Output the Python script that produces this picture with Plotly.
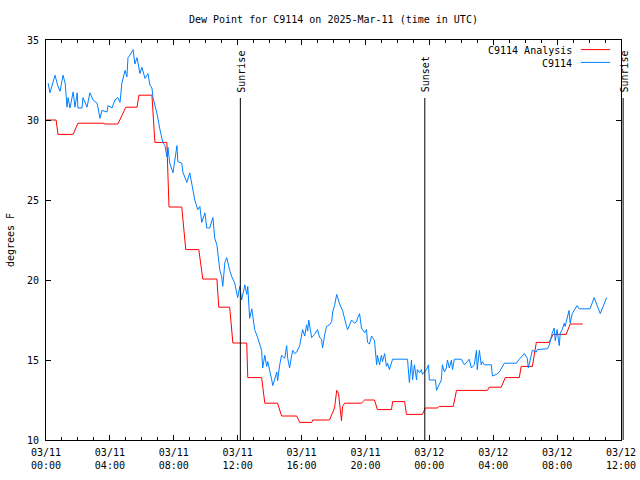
import pandas as pd
import plotly.graph_objects as go

# ---- data (minutes after the time base below) ----
time_base = "2025-03-11 00:04"
obs_minutes = [4,11,30,41,49,60,68,75,79,86,
    98,105,113,116,131,135,150,161,173,188,
    199,206,225,229,244,255,266,274,281,293,
    300,304,311,323,330,338,349,356,368,379,
    386,394,398,413,424,435,443,450,454,461,
    473,488,491,506,510,525,536,548,555,566,
    574,581,593,600,611,623,630,638,641,649,
    656,660,668,675,686,694,705,716,724,731,
    743,750,754,761,769,773,780,791,806,810,
    818,825,829,844,848,863,866,874,881,893,
    900,904,911,919,923,930,938,949,960,968,
    975,979,983,994,1005,1016,1024,1031,1035,1043,
    1050,1061,1069,1073,1080,1088,1099,1110,1118,1125,
    1129,1136,1144,1155,1163,1166,1174,1181,1185,1193,
    1200,1204,1211,1219,1223,1230,1238,1241,1249,1256,
    1260,1268,1275,1279,1286,1294,1298,1354,1361,1369,
    1373,1380,1388,1391,1399,1406,1410,1425,1433,1436,
    1459,1463,1474,1481,1485,1493,1500,1504,1511,1519,
    1523,1530,1556,1568,1586,1594,1605,1613,1616,1624,
    1631,1635,1643,1669,1673,1688,1699,1718,1763,1774,
    1793,1804,1808,1819,1823,1838,1841,1879,1886,1898,
    1905,1909,1916,1924,1928,1935,1943,1946,1954,1961,
    1965,1973,1980,1991,1999,2040,2055,2078,2102]
obs_values = [32.3,31.7,32.8,32.1,31.8,32.8,32.3,30.8,31.4,30.75,
    31.75,30.8,31.7,30.75,30.75,31.4,30.8,31.7,31.25,31.05,
    30.1,30.6,30.5,30.9,30.75,31.25,31.4,31.1,32.3,33.1,
    32.7,33.9,34.05,34.4,33.5,33.9,32.9,33.3,32.6,32.9,
    32.2,32.0,31.4,30.4,29.4,28.6,28.4,27.7,28.3,27.3,
    26.7,28.4,27.4,27.3,26.75,26.1,26.7,25.75,25.0,24.4,
    24.6,23.6,24.2,23.25,23.25,23.9,22.6,22.2,21.7,20.6,
    20.2,19.6,21.1,21.4,20.6,20.2,19.8,18.9,19.6,18.75,
    19.7,19.1,19.6,17.6,18.2,17.7,16.9,16.4,15.6,14.5,
    15.3,14.6,14.9,13.75,13.4,14.25,13.7,14.7,15.3,15.1,
    15.9,15.1,14.5,15.3,15.6,15.4,15.5,15.9,16.9,16.5,
    17.2,16.8,17.5,16.4,16.6,16.9,16.4,16.3,15.75,16.6,
    17.1,17.2,17.4,18.0,18.4,19.1,18.5,18.1,17.5,17.1,
    16.9,17.2,17.5,17.3,17.4,17.6,17.9,17.0,16.9,16.7,
    16.9,16.1,16.0,16.5,16.4,16.2,14.7,15.3,14.7,15.3,
    14.9,15.4,14.6,14.8,14.4,14.75,15.05,15.05,13.6,15.0,
    13.75,14.7,13.75,14.4,14.2,14.4,14.1,14.4,14.7,13.75,
    13.75,13.1,13.5,13.75,14.7,14.25,14.5,15.0,14.5,15.0,
    14.4,15.05,15.05,14.7,15.05,14.5,14.7,15.6,14.4,15.6,
    14.7,14.9,14.7,14.7,14.0,14.1,14.25,14.8,14.8,15.05,
    15.4,15.1,14.5,15.3,15.6,15.5,15.65,15.7,15.9,16.7,
    17.0,16.2,16.9,15.9,16.7,16.9,17.3,17.1,17.6,18.1,
    17.3,17.9,18.1,18.4,18.2,18.2,18.9,17.9,18.9]

ana_minutes = [-4,34,41,98,116,210,218,266,296,338,345,394,405,450,458,506,521,570,
    585,638,645,686,698,750,754,806,818,866,881,938,949,994,998,1061,1080,1088,
    1095,1103,1106,1110,1118,1181,1193,1230,1241,1294,1298,1343,1350,1410,1421,
    1466,1474,1526,1538,1654,1661,1706,1721,1774,1781,1823,1838,1886,1901,1950,
    1958,1965,2012]
ana_values = [30.0,30.0,29.1,29.1,29.8,29.8,29.75,29.75,30.8,30.8,31.55,31.55,28.6,28.6,
    24.56,24.56,21.9,21.9,20.06,20.06,18.3,18.3,16.06,16.06,13.9,13.9,12.3,12.3,
    11.5,11.5,11.1,11.1,11.25,11.25,12.0,13.1,12.9,11.3,11.2,12.1,12.3,12.3,12.5,
    12.5,11.9,11.9,12.4,12.4,11.6,11.6,12.0,12.0,12.1,12.1,13.1,13.1,13.3,13.3,
    13.9,13.9,14.6,14.6,16.1,16.1,16.6,16.6,17.0,17.25,17.25]

event_names = ["Sunrise", "Sunset", "Sunrise"]
event_times = ["2025-03-11 12:10", "2025-03-11 23:43", "2025-03-12 12:08"]

series_names = ["C9114 Analysis", "C9114"]
series_colors = ["#ff0000", "#0080ff"]

start = pd.Timestamp("2025-03-11 00:00")
end = pd.Timestamp("2025-03-12 12:00")
base = pd.Timestamp(time_base)
obs_t = [base + pd.Timedelta(minutes=m) for m in obs_minutes]
ana_t = [base + pd.Timedelta(minutes=m) for m in ana_minutes]

FONT = "DejaVu Sans Mono"

fig = go.Figure()
fig.add_trace(go.Scatter(x=ana_t, y=ana_values, mode="lines", name=series_names[0],
                         line=dict(color=series_colors[0], width=1)))
fig.add_trace(go.Scatter(x=obs_t, y=obs_values, mode="lines", name=series_names[1],
                         line=dict(color=series_colors[1], width=1)))

shapes = []
annotations = []
span = (end - start).total_seconds()
for name, t in zip(event_names, event_times):
    px = (pd.Timestamp(t) - start).total_seconds() / span
    shapes.append(dict(type="line", xref="paper", yref="paper", x0=px, x1=px,
                       y0=0, y1=0.855, line=dict(color="black", width=1)))
    annotations.append(dict(text=name, xref="paper", yref="paper", x=px, y=0.864,
                            xanchor="center", yanchor="bottom", textangle=-90,
                            showarrow=False, xshift=1,
                            font=dict(family=FONT, size=10, color="black")))

# manual legend (gnuplot style: text right-aligned, sample to the right)
leg_y = [0.976, 0.944]
for name, col, yy in zip(series_names, series_colors, leg_y):
    annotations.append(dict(text=name, xref="paper", yref="paper", x=0.9183, y=yy,
                            xanchor="right", yanchor="middle", showarrow=False,
                            yshift=-1,
                            font=dict(family=FONT, size=10, color="black")))
    shapes.append(dict(type="line", xref="paper", yref="paper", x0=0.930, x1=0.981,
                       y0=yy, y1=yy, line=dict(color=col, width=1)))

fig.update_layout(
    width=640, height=480,
    margin=dict(l=46, r=19, t=40, b=40, autoexpand=False),
    paper_bgcolor="white", plot_bgcolor="white",
    showlegend=False,
    font=dict(family=FONT, size=10, color="black"),
    title=dict(text="Dew Point for C9114 on 2025-Mar-11 (time in UTC)",
               x=0.521, xanchor="center", y=1 - 19 / 480, yanchor="middle",
               font=dict(family=FONT, size=10, color="black")),
    shapes=shapes, annotations=annotations,
)
fig.update_xaxes(
    range=[start, end], type="date", automargin=False,
    tickmode="linear", tick0=start, dtick=4 * 3600 * 1000,
    tickformat="%m/%d<br>%H:%M",
    ticks="inside", ticklen=5, tickcolor="black",
    minor=dict(ticks="inside", ticklen=3, dtick=3600 * 1000, tickcolor="black"),
    showline=True, linecolor="black", linewidth=1, mirror="allticks",
    showgrid=False, zeroline=False,
    tickfont=dict(family=FONT, size=10, color="black"),
    ticklabelstandoff=3,
)
fig.update_yaxes(
    range=[10, 35], tickmode="linear", tick0=10, dtick=5, automargin=False,
    ticks="inside", ticklen=5, tickcolor="black",
    showline=True, linecolor="black", linewidth=1, mirror="allticks",
    showgrid=False, zeroline=False,
    title=dict(text="degrees F", standoff=10, font=dict(family=FONT, size=10)),
    tickfont=dict(family=FONT, size=10, color="black"),
    ticklabelstandoff=4,
)

fig.write_html("out.html", config={"displayModeBar": False},
               post_script="document.body.style.margin='0';")
